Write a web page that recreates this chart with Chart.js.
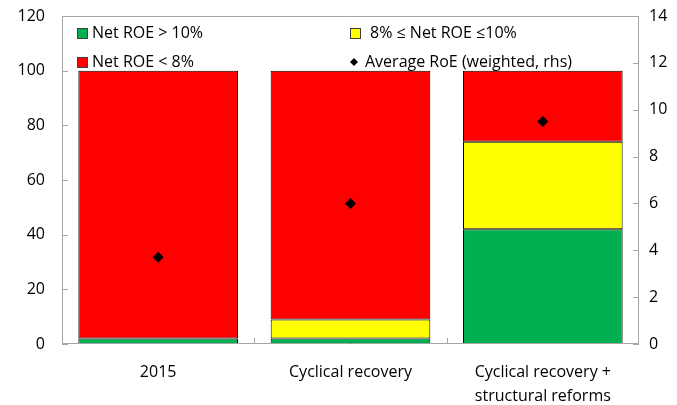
<!DOCTYPE html>
<html>
<head>
<meta charset="utf-8">
<script src="https://cdn.jsdelivr.net/npm/chart.js@4"></script>
<style>
  body { margin: 0; background: #fff; }
  #wrap { width: 677px; height: 405px; position: relative; }
</style>
</head>
<body>
<div id="wrap"><canvas id="roeCanvas"></canvas></div>
<script>
const categories = [['2015'], ['Cyclical recovery'], ['Cyclical recovery +', 'structural reforms']];
const above10 = [2, 2, 42];   // share of banks, %
const between8and10 = [0, 7, 32];
const below8 = [98, 91, 26];
const avgRoe = [3.7, 6.0, 9.5]; // rhs, %
const leftTicks = [0, 20, 40, 60, 80, 100, 120];
const rightTicks = [0, 2, 4, 6, 8, 10, 12, 14];

const FONT = '"Open Sans", "DejaVu Sans", sans-serif';
const ctx = document.getElementById('roeCanvas').getContext('2d');

// frame, inward tick marks and the legend box
const decorations = {
    id: 'decorations',
    afterDatasetsDraw(chart) {
        const c = chart.ctx;
        const a = chart.chartArea;
        const y = chart.scales.y, y1 = chart.scales.y1, x = chart.scales.x;
        c.save();
        c.strokeStyle = '#a6a6a6';
        c.lineWidth = 1;
        c.beginPath();
        c.rect(a.left + 0.5, a.top + 0.5, a.right - a.left - 1, a.bottom - a.top - 1);
        leftTicks.forEach(v => {
            const py = Math.round(y.getPixelForValue(v)) + 0.5;
            c.moveTo(a.left, py); c.lineTo(a.left + 6, py);
        });
        rightTicks.forEach(v => {
            const py = Math.round(y1.getPixelForValue(v)) + 0.5;
            c.moveTo(a.right, py); c.lineTo(a.right - 6, py);
        });
        for (let i = 1; i < categories.length; i++) {
            const px = Math.round((x.getPixelForValue(i - 1) + x.getPixelForValue(i)) / 2) + 0.5;
            c.moveTo(px, a.bottom); c.lineTo(px, a.bottom - 6);
        }
        c.stroke();

        // legend
        const items = [
            { label: 'Net ROE > 10%', color: '#00B050', x: 77, y: 33 },
            { label: '8% \u2264 Net ROE \u226410%', color: '#FFFF00', x: 350, y: 33, gap: 20 },
            { label: 'Net ROE < 8%', color: '#FF0000', x: 77, y: 62 },
            { label: 'Average RoE (weighted, rhs)', diamond: true, x: 350, y: 62 }
        ];
        c.font = '16px ' + FONT;
        c.textBaseline = 'middle';
        c.fillStyle = '#000';
        items.forEach(it => {
            if (it.diamond) {
                c.beginPath();
                c.moveTo(it.x + 4, it.y - 4); c.lineTo(it.x + 8, it.y);
                c.lineTo(it.x + 4, it.y + 4); c.lineTo(it.x, it.y);
                c.closePath();
                c.fillStyle = '#000';
                c.fill();
                c.fillText(it.label, it.x + 15, it.y);
            } else {
                c.fillStyle = it.color;
                c.fillRect(it.x, it.y - 5, 11, 11);
                c.strokeStyle = '#404040';
                c.strokeRect(it.x + 0.5, it.y - 4.5, 10, 10);
                c.fillStyle = '#000';
                c.fillText(it.label, it.x + (it.gap || 15), it.y);
            }
        });
        c.restore();
    }
};

new Chart(ctx, {
    type: 'bar',
    data: {
        labels: categories,
        datasets: [
            { label: 'Net ROE > 10%', data: above10, backgroundColor: '#00B050', borderColor: '#000', borderWidth: 1, borderSkipped: false, order: 2 },
            { label: '8% \u2264 Net ROE \u226410%', data: between8and10, backgroundColor: '#FFFF00', borderColor: '#000', borderWidth: 1, borderSkipped: false, order: 2 },
            { label: 'Net ROE < 8%', data: below8, backgroundColor: '#FF0000', borderColor: '#000', borderWidth: 1, borderSkipped: false, order: 2 },
            {
                type: 'line', label: 'Average RoE (weighted, rhs)', data: avgRoe, yAxisID: 'y1',
                showLine: false, pointStyle: 'rectRot', pointRadius: 5.5, pointHoverRadius: 5.5,
                backgroundColor: '#000', borderColor: '#000', borderWidth: 0, order: 1
            }
        ]
    },
    options: {
        responsive: true,
        maintainAspectRatio: false,
        animation: false,
        layout: { padding: { top: 16, right: 0, left: 0, bottom: 0 } },
        categoryPercentage: 0.83,
        barPercentage: 1.0,
        plugins: { legend: { display: false }, tooltip: { enabled: false } },
        scales: {
            x: {
                stacked: true,
                grid: { display: false, drawTicks: false },
                border: { display: false },
                ticks: { color: '#000', font: { family: FONT, size: 16, lineHeight: 1.5 }, padding: 16, maxRotation: 0 },
                afterFit(s) { s.height = 61; s.paddingLeft = 0; s.paddingRight = 0; }
            },
            y: {
                stacked: true, min: 0, max: 120,
                afterBuildTicks(s) { s.ticks = leftTicks.map(v => ({ value: v })); },
                grid: { display: false, drawTicks: false },
                border: { display: false },
                ticks: { color: '#000', font: { family: FONT, size: 16 }, padding: 17 },
                afterFit(s) { s.width = 62; s.paddingTop = 0; s.paddingBottom = 0; }
            },
            y1: {
                position: 'right', min: 0, max: 14,
                afterBuildTicks(s) { s.ticks = rightTicks.map(v => ({ value: v })); },
                grid: { display: false, drawTicks: false },
                border: { display: false },
                ticks: { color: '#000', font: { family: FONT, size: 16 }, padding: 10 },
                afterFit(s) { s.width = 38; s.paddingTop = 0; s.paddingBottom = 0; }
            }
        }
    },
    plugins: [decorations]
});
</script>
</body>
</html>
